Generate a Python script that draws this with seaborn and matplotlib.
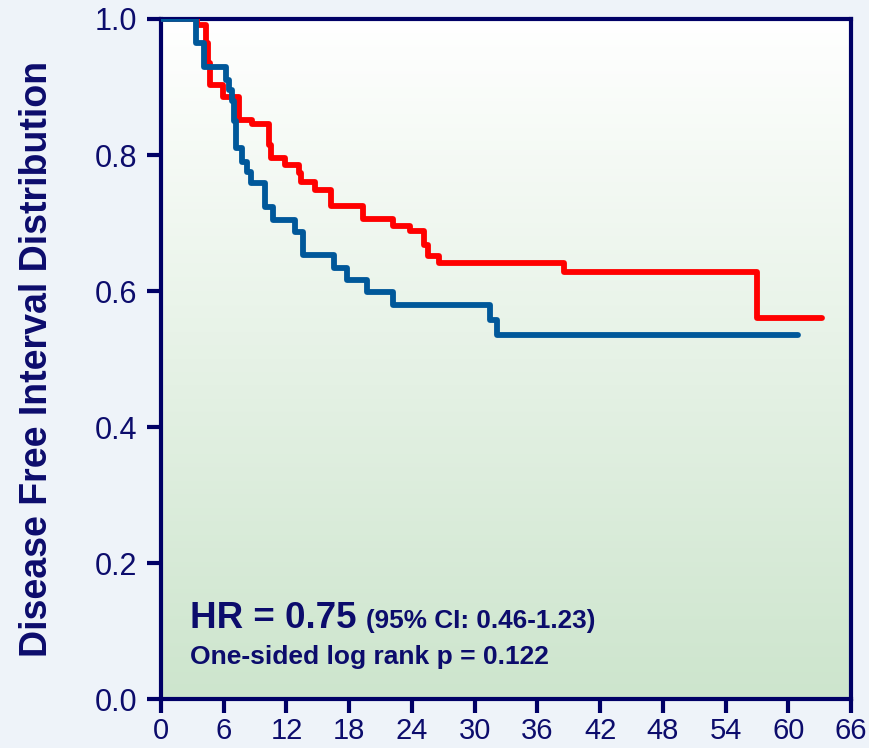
import numpy as np
import pandas as pd
import matplotlib
matplotlib.use("Agg")
import matplotlib.pyplot as plt
from matplotlib.colors import LinearSegmentedColormap
import seaborn as sns

# step curves (time in months, survival after each event)
red_time = [0, 3.4, 4.3, 4.5, 4.7, 5.9, 7.5, 8.7, 10.3, 10.5, 11.9, 13.2, 13.4,
            14.7, 16.3, 19.3, 22.2, 23.8, 25.2, 25.5, 26.6, 38.5, 57.0, 63.2]
red_surv = [1.0, 0.991, 0.965, 0.935, 0.903, 0.885, 0.851, 0.846, 0.815, 0.795,
            0.785, 0.773, 0.76, 0.748, 0.725, 0.706, 0.696, 0.688, 0.668, 0.652,
            0.641, 0.628, 0.56, 0.56]

blue_time = [0, 3.3, 4.1, 6.2, 6.5, 6.8, 7.0, 7.2, 7.7, 8.2, 8.6, 9.9, 10.7,
             12.8, 13.6, 16.5, 17.8, 19.7, 22.2, 31.5, 32.1, 60.9]
blue_surv = [1.0, 0.965, 0.93, 0.91, 0.895, 0.88, 0.85, 0.81, 0.79, 0.775, 0.759,
             0.724, 0.704, 0.687, 0.653, 0.634, 0.616, 0.599, 0.579, 0.557, 0.535,
             0.535]

x_ticks = list(range(0, 67, 6))
y_ticks = [0.0, 0.2, 0.4, 0.6, 0.8, 1.0]

NAVY = "#000066"
TEXT = "#0c0c6c"
FONT = ["Liberation Sans", "DejaVu Sans"]

df = pd.concat([
    pd.DataFrame({"time": red_time, "surv": red_surv, "arm": "red"}),
    pd.DataFrame({"time": blue_time, "surv": blue_surv, "arm": "blue"}),
])

sns.set_style("white")
plt.rcParams["font.family"] = FONT
fig = plt.figure(figsize=(8.69, 7.48), dpi=100)
fig.patch.set_facecolor("#eef3f9")
ax = fig.add_axes([0.1853, 0.0655, 0.794, 0.9091])

# white -> pale green gradient behind the curves
cmap = LinearSegmentedColormap.from_list("bg", ["#cde5cd", "#ffffff"])
grad = np.linspace(0, 1, 256).reshape(-1, 1)
ax.imshow(grad, cmap=cmap, origin="lower", extent=[0, 66, 0, 1],
          aspect="auto", zorder=0)

sns.lineplot(data=df, x="time", y="surv", hue="arm",
             palette={"red": "#ff0000", "blue": "#00589a"},
             drawstyle="steps-post", estimator=None, sort=False,
             legend=False, linewidth=4.2, ax=ax, zorder=3)

ax.set_xlim(0, 66)
ax.set_ylim(0, 1)
ax.set_xticks(x_ticks)
ax.set_yticks(y_ticks)
ax.set_yticklabels([f"{v:.1f}" for v in y_ticks])
ax.set_xlabel("")
ax.set_ylabel("Disease Free Interval Distribution", fontsize=27,
              fontweight="bold", color=TEXT)
ax.yaxis.set_label_coords(-0.153, 0.5)

for s in ax.spines.values():
    s.set_color(NAVY)
    s.set_linewidth(3)
    s.set_visible(True)
ax.tick_params(direction="out", length=10, width=3, color=NAVY,
               labelcolor=TEXT, labelsize=22, bottom=True, left=True)
ax.tick_params(axis="x", labelsize=21, pad=3)
ax.tick_params(axis="y", pad=7)

ax.text(2.8, 0.104, "HR = 0.75", fontsize=26.5, fontweight="bold", color=TEXT,
        zorder=5)
ax.text(19.6, 0.104, "(95% CI: 0.46-1.23)", fontsize=18.8, fontweight="bold",
        color=TEXT, zorder=5)
ax.text(2.8, 0.051, "One-sided log rank p = 0.122", fontsize=19,
        fontweight="bold", color=TEXT, zorder=5)

fig.savefig("out.png", dpi=100, facecolor=fig.get_facecolor())
